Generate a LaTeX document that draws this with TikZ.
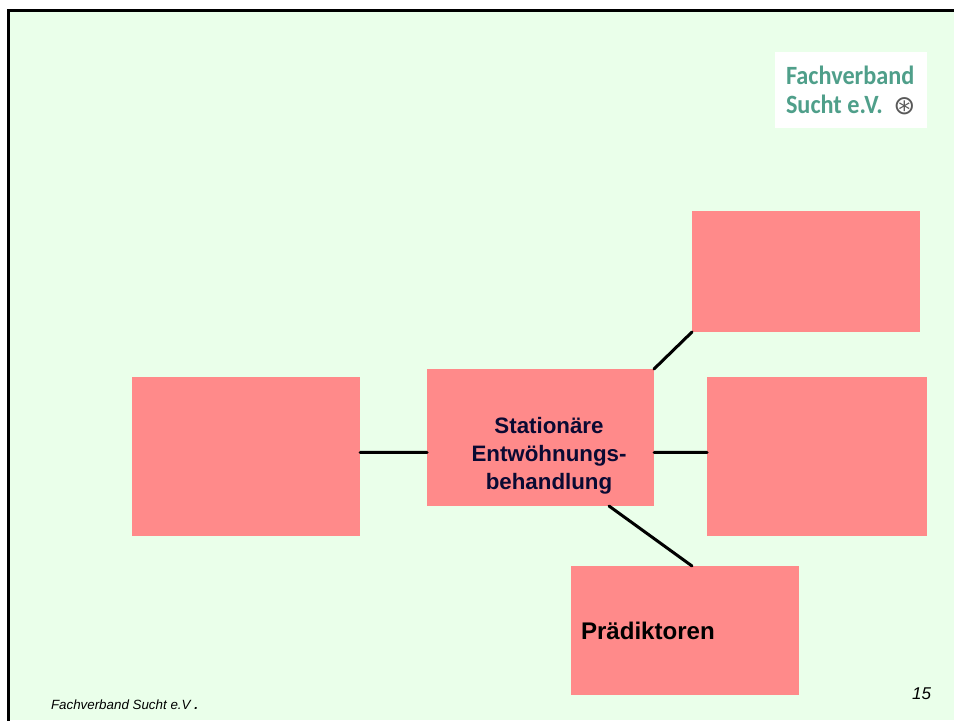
\documentclass[tikz,border=0pt]{standalone}
\usepackage{fontspec}
\setmainfont{Liberation Sans}
\newfontfamily\logofont{Carlito}
\newfontfamily\symbfont{DejaVu Sans}
\definecolor{slidegreen}{HTML}{EAFFEA}
\definecolor{boxred}{HTML}{FF8A8A}
\definecolor{darknavy}{HTML}{0A0A33}
\definecolor{logoteal}{HTML}{4F9F8A}
\begin{document}
\begin{tikzpicture}[every node/.style={outer sep=0pt, inner sep=0pt}, redbox/.style={fill=boxred, minimum width=4.56cm}, link/.style={line width=0.06cm, line cap=round}]
		\useasboundingbox (0, 0) rectangle (19.08, 14.4);
		% Slide
		\fill[white] (0, 0) rectangle (19.08, 14.4);
		\fill[slidegreen] (0.18, 0) rectangle (19.08, 14.18);
		\draw[line width=0.06cm, line cap=rect] (0.17, 0) -- (0.17, 14.19) -- (19.08, 14.19);

		% Logo
		\node[fill=white, minimum width=3.04cm, minimum height=1.52cm] (logo) at (17.02, 12.6) {};
		\node[anchor=west, align=left, text=logoteal, xscale=0.92, transform shape, font=\logofont\bfseries\fontsize{15pt}{16.5pt}\selectfont] (logotext) at (15.72, 12.6) {Fachverband\\Sucht e.V.};
		\node[text=black!65, font=\symbfont\fontsize{15pt}{15pt}\selectfont] (logomark) at (18.09, 12.28) {⊛};

		% Boxes
		\node[redbox, minimum width=4.54cm, minimum height=2.74cm] (central) at (10.81, 5.65) {};
		\node[align=center, text=darknavy, font=\bfseries\fontsize{12.7pt}{15.9pt}\selectfont] (centrallabel) at (10.98, 5.29) {Stationäre\\Entwöhnungs-\\behandlung};
		\node[redbox, minimum height=2.42cm] (topbox) at (16.12, 8.97) {};
		\node[redbox, minimum width=4.4cm, minimum height=3.18cm] (rightbox) at (16.34, 5.27) {};
		\node[redbox, minimum height=3.18cm] (leftbox) at (4.92, 5.27) {};
		\node[redbox, minimum height=2.58cm] (bottombox) at (13.7, 1.79) {};
		\node[anchor=west, font=\bfseries\fontsize{13.7pt}{16pt}\selectfont] (predictors) at (11.62, 1.78) {Prädiktoren};

		% Links
		\draw[link] (central.north east) -- (topbox.south west);
		\draw[link] ([yshift=-0.3cm]central.east) -- ([yshift=0.08cm]rightbox.west);
		\draw[link] ([yshift=0.08cm]leftbox.east) -- ([yshift=-0.3cm]central.west);
		\draw[link] ([xshift=1.37cm]central.south) -- ([xshift=0.14cm]bottombox.north);

		% Footer
		\node[anchor=west, font=\itshape\fontsize{7.6pt}{9pt}\selectfont] (source) at (1.02, 0.3) {Fachverband Sucht e.V \textbf{.}};
		\node[anchor=east, font=\itshape\fontsize{9.7pt}{11pt}\selectfont] (pagenumber) at (18.62, 0.52) {15};
	\end{tikzpicture}
\end{document}
